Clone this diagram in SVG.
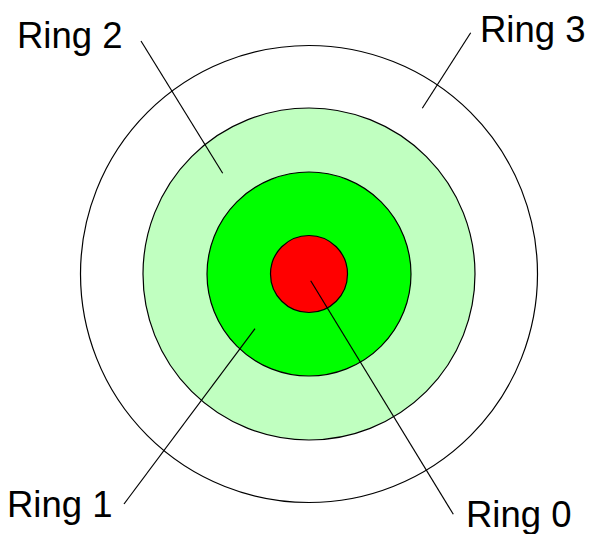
<svg xmlns="http://www.w3.org/2000/svg" width="592" height="534" viewBox="0 0 592 534">
<style>
.ring{stroke:#000;stroke-width:1.2}
.lbl{font-family:"Liberation Sans",Arial,sans-serif;font-size:36.5px;fill:#000}
.conn line{stroke:#000;stroke-width:1.2}
</style>
<rect width="592" height="534" fill="#fff"/>
<g id="ring3"><circle class="ring" cx="309" cy="274" r="228.5" fill="#fff"/></g>
<g id="ring2"><circle class="ring" cx="309" cy="274" r="166" fill="#C0FFC0"/></g>
<g id="ring1"><circle class="ring" cx="309" cy="274" r="102" fill="#00FF00"/></g>
<g id="ring0"><circle class="ring" cx="309" cy="274" r="38.5" fill="#FF0000"/></g>
<g id="connectors" class="conn">
<line x1="141" y1="41" x2="222.7" y2="173.3"/>
<line x1="470.7" y1="32.7" x2="422.3" y2="108.3"/>
<line x1="255" y1="328.7" x2="124" y2="504"/>
<line x1="310.7" y1="280.7" x2="453.3" y2="514.3"/>
</g>
<g id="label-ring2"><text class="lbl" x="17" y="48">Ring 2</text></g>
<g id="label-ring3"><text class="lbl" x="480" y="41.5">Ring 3</text></g>
<g id="label-ring1"><text class="lbl" x="7" y="516.5">Ring 1</text></g>
<g id="label-ring0"><text class="lbl" x="466" y="526.5">Ring 0</text></g>
</svg>
